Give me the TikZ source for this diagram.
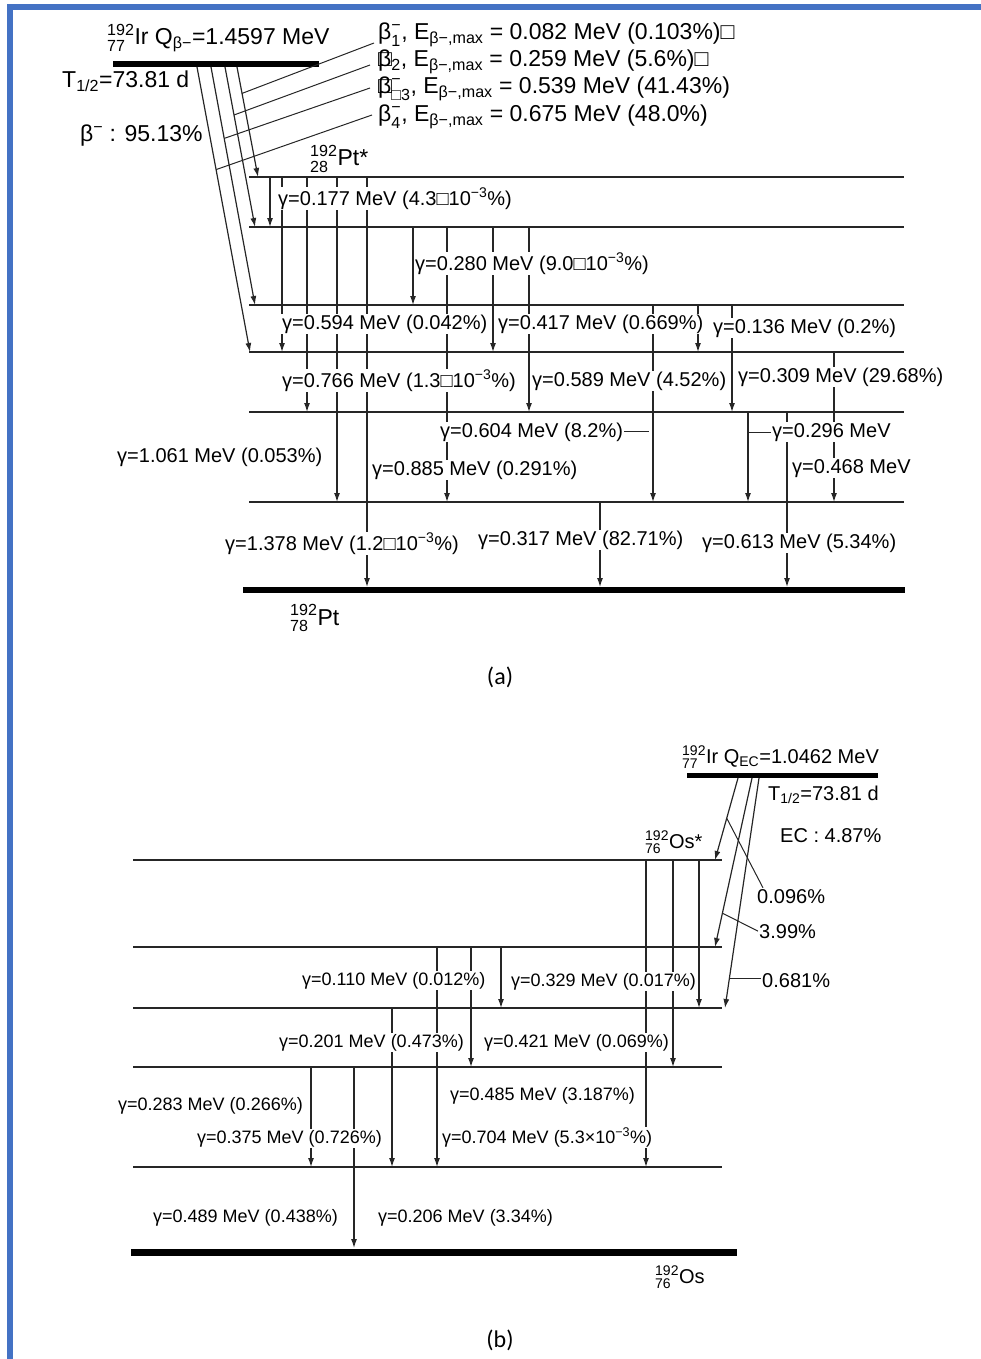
\documentclass[tikz,border=0pt]{standalone}
\usepackage{amsmath}
\usepackage{fontspec}
\setmainfont{Liberation Sans}
\newfontfamily\capfont{Carlito}
\usetikzlibrary{arrows.meta}
\definecolor{frameblue}{HTML}{4472C4}
\newcommand{\nuc}[3]{$^{\text{#1}}_{\text{#2}}$#3}

\begin{document}
\begin{tikzpicture}[x=1pt,y=-1pt,
		>={Latex[length=9pt,width=6pt]},
		level/.style={line width=1.6pt, draw=black!85},
		gnd/.style={line width=6pt},
		gam/.style={->, line width=1.2pt, draw=black!85},
		thinl/.style={line width=1pt, draw=black!85},
		lbl/.style={fill=white, inner sep=1pt, anchor=base west, font=\fontsize{20}{22}\selectfont},
		lblb/.style={lbl, font=\fontsize{18}{20}\selectfont},
		big/.style={inner sep=1pt, anchor=base west, font=\fontsize{23}{27}\selectfont},
		mid/.style={inner sep=1pt, anchor=base west, font=\fontsize{20}{24}\selectfont}]
		\useasboundingbox (0,0) rectangle (981,1359);
		\fill[frameblue] (7,4) rectangle (981,10);
		\fill[frameblue] (7,4) rectangle (13,1359);
		% (a) beta- decay to Pt
		\draw[gnd] (113,64) -- (319,64);
		\foreach \y in {177,227,305,352,412,502}
			\draw[level] (249,\y) -- (904,\y);
		\draw[gnd] (243,590) -- (905,590);
		\foreach \x/\a/\b in {270/177/227, 282/177/352, 307/177/412, 337/177/502, 367/177/587,
				413/227/305, 447/227/502, 493/227/352, 529/227/412, 653/305/502, 698/305/352,
				732/305/412, 748/412/502, 787/412/587, 834/352/502, 600/502/587}
			\draw[gam] (\x,\a) -- (\x,\b);
		\node[lbl] (g177) at (277,205) {γ=0.177 MeV (4.3□10$^{\text{−3}}$\%)};
		\node[lbl] (g280) at (414,270) {γ=0.280 MeV (9.0□10$^{\text{−3}}$\%)};
		\node[lbl] (g594) at (281,329) {γ=0.594 MeV (0.042\%)};
		\node[lbl] (g417) at (497,329) {γ=0.417 MeV (0.669\%)};
		\node[lbl] (g136) at (712,333) {γ=0.136 MeV (0.2\%)};
		\node[lbl] (g766) at (281,387) {γ=0.766 MeV (1.3□10$^{\text{−3}}$\%)};
		\node[lbl] (g589) at (531,386) {γ=0.589 MeV (4.52\%)};
		\node[lbl] (g309) at (737,382) {γ=0.309 MeV (29.68\%)};
		\node[lbl] (g604) at (439,437) {γ=0.604 MeV (8.2\%)};
		\node[lbl] (g296) at (771,437) {γ=0.296 MeV};
		\node[lbl] (g1061) at (116,462) {γ=1.061 MeV (0.053\%)};
		\node[lbl] (g885) at (371,475) {γ=0.885 MeV (0.291\%)};
		\node[lbl] (g468) at (791,473) {γ=0.468 MeV};
		\node[lbl] (g1378) at (224,550) {γ=1.378 MeV (1.2□10$^{\text{−3}}$\%)};
		\node[lbl] (g317) at (477,545) {γ=0.317 MeV (82.71\%)};
		\node[lbl] (g613) at (701,548) {γ=0.613 MeV (5.34\%)};
		\draw[thinl] (g604.east) -- ++(25,0);
		\draw[thinl] (g296.west) -- ++(-23,0);
		\node[big] (ir) at (106,45) {\nuc{192}{77}{Ir} Q$_{\text{β−}}$=1.4597 MeV};
		\node[big] (thalf) at (61,88) {T$_{\text{1/2}}$=73.81 d};
		\node[big] (bminus) at (79,142) {β$^{\text{−}}$ : 95.13\%};
		\node[big] (ptx) at (309,166) {\nuc{192}{28}{Pt*}};
		\node[big] (pt) at (289,625) {\nuc{192}{78}{Pt}};
		\node[big] (lb1) at (377,40) {β$^{\text{−}}_{\text{1}}$, E$_{\text{β−,max}}$ = 0.082 MeV (0.103\%)□};
		\node[big] (lb2) at (377,67) {\rlap{□}β$_{\text{2}}$, E$_{\text{β−,max}}$ = 0.259 MeV (5.6\%)□};
		\node[big] (lb3) at (377,94) {\rlap{□}β$^{\text{−}}_{\text{□3}}$, E$_{\text{β−,max}}$ = 0.539 MeV (41.43\%)};
		\node[big] (lb4) at (377,122) {β$^{\text{−}}_{\text{4}}$, E$_{\text{β−,max}}$ = 0.675 MeV (48.0\%)};
		\draw[gam] (237,67) -- (258,177) coordinate[pos=0.24] (b1k);
		\draw[gam] (225,67) -- (255,227) coordinate[pos=0.30] (b2k);
		\draw[gam] (211,67) -- (255,305) coordinate[pos=0.30] (b3k);
		\draw[gam] (197,67) -- (250,352) coordinate[pos=0.36] (b4k);
		\draw[thinl] (b1k) -- ([shift={(-3,3)}]lb1.base west);
		\draw[thinl] (b2k) -- ([shift={(-7,-2)}]lb2.base west);
		\draw[thinl] (b3k) -- ([shift={(-7,-6)}]lb3.base west);
		\draw[thinl] (b4k) -- ([shift={(-5,-7)}]lb4.base west);
		\node[font=\capfont\fontsize{24}{28}\selectfont] (capa) at (500,677) {(a)};
		% (b) electron capture to Os
		\draw[gnd, line width=5pt] (687,775) -- (878,775);
		\foreach \y in {860,947,1008,1067,1167}
			\draw[level] (133,\y) -- (722,\y);
		\draw[gnd, line width=7pt] (131,1252) -- (737,1252);
		\foreach \x/\a/\b in {437/947/1167, 471/947/1067, 501/947/1008, 646/860/1167, 673/860/1067,
				699/860/1008, 392/1008/1167, 311/1067/1167, 354/1067/1248}
			\draw[gam] (\x,\a) -- (\x,\b);
		\node[lblb] (g110) at (301,985) {γ=0.110 MeV (0.012\%)};
		\node[lblb] (g329) at (510,986) {γ=0.329 MeV (0.017\%)};
		\node[lblb] (g201) at (278,1047) {γ=0.201 MeV (0.473\%)};
		\node[lblb] (g421) at (483,1047) {γ=0.421 MeV (0.069\%)};
		\node[lblb] (g485) at (449,1100) {γ=0.485 MeV (3.187\%)};
		\node[lblb] (g283) at (117,1110) {γ=0.283 MeV (0.266\%)};
		\node[lblb] (g375) at (196,1143) {γ=0.375 MeV (0.726\%)};
		\node[lblb] (g704) at (441,1143) {γ=0.704 MeV (5.3×10$^{\text{−3}}$\%)};
		\node[lblb] (g489) at (152,1222) {γ=0.489 MeV (0.438\%)};
		\node[lblb] (g206) at (377,1222) {γ=0.206 MeV (3.34\%)};
		\node[mid] (ir2) at (681,763) {\nuc{192}{77}{Ir} Q$_{\text{EC}}$=1.0462 MeV};
		\node[mid] (th2) at (767,800) {T$_{\text{1/2}}$=73.81 d};
		\node[mid] (ec) at (779,842) {EC : 4.87\%};
		\node[mid] (osx) at (644,848) {\nuc{192}{76}{Os*}};
		\node[mid] (os) at (654,1283) {\nuc{192}{76}{Os}};
		\node[mid] (l096) at (756,903) {0.096\%};
		\node[mid] (l399) at (758,938) {3.99\%};
		\node[mid] (l681) at (761,987) {0.681\%};
		\draw[gam] (738,778) -- (715,860) coordinate[pos=0.49] (e1k);
		\draw[gam] (752,778) -- (715,947) coordinate[pos=0.80] (e2k);
		\draw[gam] (759,778) -- (725,1008) coordinate[pos=0.87] (e3k);
		\draw[thinl] (e1k) -- ([xshift=7pt]l096.north west);
		\draw[thinl] (e2k) -- (l399.west);
		\draw[thinl] (e3k) -- (e3k -| l681.west);
		\node[font=\capfont\fontsize{24}{28}\selectfont] (capb) at (500,1340) {(b)};
\end{tikzpicture}
\end{document}
